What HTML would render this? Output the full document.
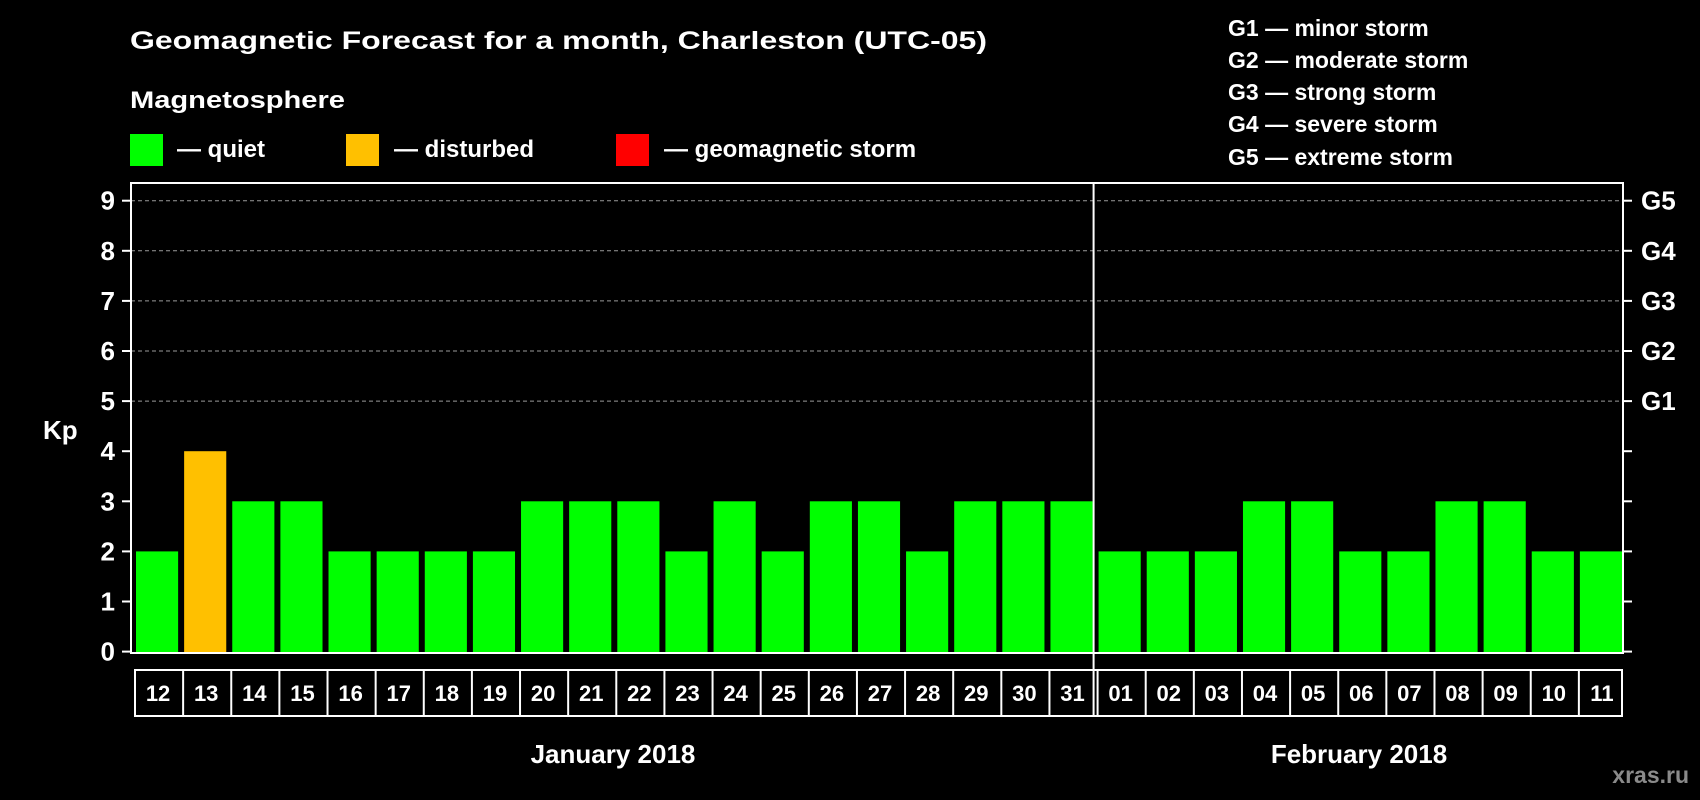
<!DOCTYPE html>
<html><head><meta charset="utf-8"><style>
html,body{margin:0;padding:0;background:#000;}
svg{display:block;font-family:"Liberation Sans",sans-serif;font-weight:bold;}
</style></head><body>
<svg id="chart" width="1700" height="800" viewBox="0 0 1700 800">
<rect x="0" y="0" width="1700" height="800" fill="#000"/>
<text x="130" y="49" font-size="25" fill="#fff" textLength="857" lengthAdjust="spacingAndGlyphs">Geomagnetic Forecast for a month, Charleston (UTC-05)</text>
<text x="130" y="108" font-size="24" fill="#fff" textLength="215" lengthAdjust="spacingAndGlyphs">Magnetosphere</text>
<g>
<rect x="130" y="134" width="33" height="32" fill="#00ff00"/>
<text x="177" y="157" font-size="24" fill="#fff">— quiet</text></g>
<g>
<rect x="346" y="134" width="33" height="32" fill="#ffc000"/>
<text x="394" y="157" font-size="24" fill="#fff">— disturbed</text></g>
<g>
<rect x="616" y="134" width="33" height="32" fill="#ff0000"/>
<text x="664" y="157" font-size="24" fill="#fff">— geomagnetic storm</text></g>
<g font-size="23" fill="#fff">
<text x="1228" y="36">G1 — minor storm</text>
<text x="1228" y="68">G2 — moderate storm</text>
<text x="1228" y="100">G3 — strong storm</text>
<text x="1228" y="132">G4 — severe storm</text>
<text x="1228" y="165">G5 — extreme storm</text>
</g>
<text x="43" y="439" font-size="26" fill="#fff">Kp</text>
<g id="plot"></g>
<text x="613" y="763" font-size="26" fill="#fff" text-anchor="middle">January 2018</text>
<text x="1359" y="763" font-size="26" fill="#fff" text-anchor="middle">February 2018</text>
<text x="1689" y="783" font-size="23" fill="#8a8a8a" text-anchor="end">xras.ru</text>
</svg>
<script>
const days = ["12","13","14","15","16","17","18","19","20","21","22","23","24","25","26","27","28","29","30","31","01","02","03","04","05","06","07","08","09","10","11"];
const kpValues = [2,4,3,3,2,2,2,2,3,3,3,2,3,2,3,3,2,3,3,3,2,2,2,3,3,2,2,3,3,2,2];
const yTicks = [0,1,2,3,4,5,6,7,8,9];
const gLabels = ["G1","G2","G3","G4","G5"];
const gLevels = [5,6,7,8,9];
const monthSplitIndex = 20;

const NS = "http://www.w3.org/2000/svg";
const plot = document.getElementById("plot");
const L = 131, R = 1623, T = 183, B = 653;
const y0 = 651.6, unit = 50.1;
const pitch = (R - L) / days.length;
function yScale(v){ return y0 - v * unit; }
function xScale(i){ return L + i * pitch; }
function mk(tag, attrs){ const e = document.createElementNS(NS, tag); for (const k in attrs) e.setAttribute(k, attrs[k]); return e; }
function colorFor(v){ return v >= 5 ? "#ff0000" : (v >= 4 ? "#ffc000" : "#00ff00"); }

// grid lines
gLevels.forEach(v => {
  const g = mk("line", {x1: L, x2: R, y1: yScale(v), y2: yScale(v), stroke: "#9a9a9a", "stroke-width": 1, "stroke-dasharray": "4,3"});
  
  
  plot.appendChild(g);
});
// bars
kpValues.forEach((v, i) => {
  const b = mk("rect", {x: xScale(i) + 5, y: yScale(v), width: pitch - 6, height: yScale(0) - yScale(v) + 1.5, fill: colorFor(v)});
  
  
  plot.appendChild(b);
});
// frame
const frame = mk("rect", {x: L, y: T, width: R - L, height: B - T, fill: "none", stroke: "#fff", "stroke-width": 2});


plot.appendChild(frame);
const div = mk("line", {x1: xScale(monthSplitIndex), x2: xScale(monthSplitIndex), y1: T, y2: 716, stroke: "#fff", "stroke-width": 2});


plot.appendChild(div);
// y ticks
yTicks.forEach(v => {
  const y = yScale(v);
  const t1 = mk("line", {x1: L - 9, x2: L, y1: y, y2: y, stroke: "#fff", "stroke-width": 2});
  
  
  plot.appendChild(t1);
  const t2 = mk("line", {x1: R, x2: R + 9, y1: y, y2: y, stroke: "#fff", "stroke-width": 2});
  
  
  plot.appendChild(t2);
  const lab = mk("text", {x: 115, y: y + 9, "font-size": 26, fill: "#fff", "text-anchor": "end"});
  lab.textContent = v;
  
  
  plot.appendChild(lab);
});
gLabels.forEach((g, i) => {
  const lab = mk("text", {x: 1641, y: yScale(gLevels[i]) + 9, "font-size": 26, fill: "#fff"});
  lab.textContent = g;
  
  
  plot.appendChild(lab);
});
// day label boxes
const boxTop = 670, boxBot = 716;
const box = mk("rect", {x: L + 4, y: boxTop, width: R - L - 5, height: boxBot - boxTop, fill: "none", stroke: "#fff", "stroke-width": 2});


plot.appendChild(box);
days.forEach((d, i) => {
  if (i > 0) {
    const s = mk("line", {x1: xScale(i) + 4, x2: xScale(i) + 4, y1: boxTop, y2: boxBot, stroke: "#fff", "stroke-width": 2});
    
    
    plot.appendChild(s);
  }
  const t = mk("text", {x: xScale(i) + pitch / 2 + 3, y: 701, "font-size": 22, fill: "#fff", "text-anchor": "middle"});
  t.textContent = d;
  
  
  plot.appendChild(t);
});
</script>
</body></html>
